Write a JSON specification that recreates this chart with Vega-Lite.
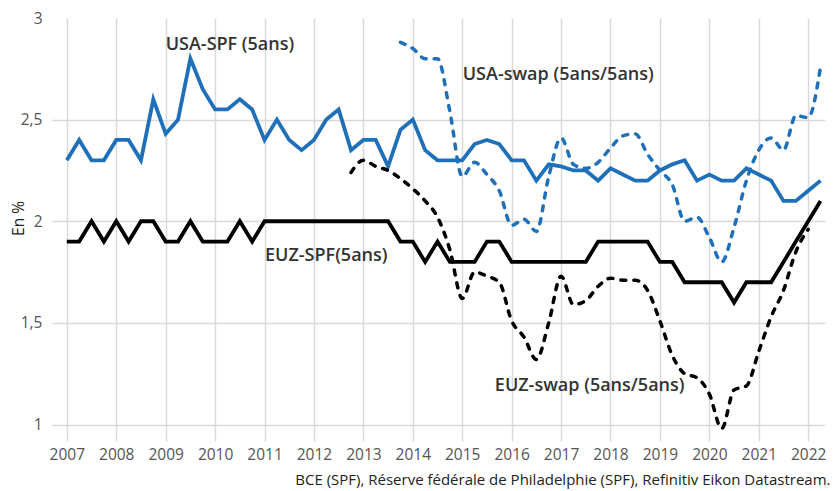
{
  "$schema": "https://vega.github.io/schema/vega-lite/v6.json",
  "width": 773,
  "height": 423,
  "autosize": {"type": "none"},
  "padding": {"left": 52, "top": 18, "right": 13, "bottom": 50},
  "background": "white",
  "config": {"view": {"stroke": null}, "font": "Open Sans"},
  "datasets": {
    "series": [
      {"s": "USA-SPF", "t": 2007.0, "v": 2.30}, {"s": "USA-SPF", "t": 2007.25, "v": 2.40}, {"s": "USA-SPF", "t": 2007.5, "v": 2.30}, {"s": "USA-SPF", "t": 2007.75, "v": 2.30},
      {"s": "USA-SPF", "t": 2008.0, "v": 2.40}, {"s": "USA-SPF", "t": 2008.25, "v": 2.40}, {"s": "USA-SPF", "t": 2008.5, "v": 2.30}, {"s": "USA-SPF", "t": 2008.75, "v": 2.60},
      {"s": "USA-SPF", "t": 2009.0, "v": 2.43}, {"s": "USA-SPF", "t": 2009.25, "v": 2.50}, {"s": "USA-SPF", "t": 2009.5, "v": 2.80}, {"s": "USA-SPF", "t": 2009.75, "v": 2.65},
      {"s": "USA-SPF", "t": 2010.0, "v": 2.55}, {"s": "USA-SPF", "t": 2010.25, "v": 2.55}, {"s": "USA-SPF", "t": 2010.5, "v": 2.60}, {"s": "USA-SPF", "t": 2010.75, "v": 2.55},
      {"s": "USA-SPF", "t": 2011.0, "v": 2.40}, {"s": "USA-SPF", "t": 2011.25, "v": 2.50}, {"s": "USA-SPF", "t": 2011.5, "v": 2.40}, {"s": "USA-SPF", "t": 2011.75, "v": 2.35},
      {"s": "USA-SPF", "t": 2012.0, "v": 2.40}, {"s": "USA-SPF", "t": 2012.25, "v": 2.50}, {"s": "USA-SPF", "t": 2012.5, "v": 2.55}, {"s": "USA-SPF", "t": 2012.75, "v": 2.35},
      {"s": "USA-SPF", "t": 2013.0, "v": 2.40}, {"s": "USA-SPF", "t": 2013.25, "v": 2.40}, {"s": "USA-SPF", "t": 2013.5, "v": 2.27}, {"s": "USA-SPF", "t": 2013.75, "v": 2.45},
      {"s": "USA-SPF", "t": 2014.0, "v": 2.50}, {"s": "USA-SPF", "t": 2014.25, "v": 2.35}, {"s": "USA-SPF", "t": 2014.5, "v": 2.30}, {"s": "USA-SPF", "t": 2014.75, "v": 2.30},
      {"s": "USA-SPF", "t": 2015.0, "v": 2.30}, {"s": "USA-SPF", "t": 2015.25, "v": 2.38}, {"s": "USA-SPF", "t": 2015.5, "v": 2.40}, {"s": "USA-SPF", "t": 2015.75, "v": 2.38},
      {"s": "USA-SPF", "t": 2016.0, "v": 2.30}, {"s": "USA-SPF", "t": 2016.25, "v": 2.30}, {"s": "USA-SPF", "t": 2016.5, "v": 2.20}, {"s": "USA-SPF", "t": 2016.75, "v": 2.28},
      {"s": "USA-SPF", "t": 2017.0, "v": 2.27}, {"s": "USA-SPF", "t": 2017.25, "v": 2.25}, {"s": "USA-SPF", "t": 2017.5, "v": 2.25}, {"s": "USA-SPF", "t": 2017.75, "v": 2.20},
      {"s": "USA-SPF", "t": 2018.0, "v": 2.26}, {"s": "USA-SPF", "t": 2018.25, "v": 2.23}, {"s": "USA-SPF", "t": 2018.5, "v": 2.20}, {"s": "USA-SPF", "t": 2018.75, "v": 2.20},
      {"s": "USA-SPF", "t": 2019.0, "v": 2.25}, {"s": "USA-SPF", "t": 2019.25, "v": 2.28}, {"s": "USA-SPF", "t": 2019.5, "v": 2.30}, {"s": "USA-SPF", "t": 2019.75, "v": 2.20},
      {"s": "USA-SPF", "t": 2020.0, "v": 2.23}, {"s": "USA-SPF", "t": 2020.25, "v": 2.20}, {"s": "USA-SPF", "t": 2020.5, "v": 2.20}, {"s": "USA-SPF", "t": 2020.75, "v": 2.26},
      {"s": "USA-SPF", "t": 2021.0, "v": 2.23}, {"s": "USA-SPF", "t": 2021.25, "v": 2.20}, {"s": "USA-SPF", "t": 2021.5, "v": 2.10}, {"s": "USA-SPF", "t": 2021.75, "v": 2.10},
      {"s": "USA-SPF", "t": 2022.0, "v": 2.15}, {"s": "USA-SPF", "t": 2022.25, "v": 2.20},

      {"s": "EUZ-SPF", "t": 2007.0, "v": 1.9}, {"s": "EUZ-SPF", "t": 2007.25, "v": 1.9}, {"s": "EUZ-SPF", "t": 2007.5, "v": 2.0}, {"s": "EUZ-SPF", "t": 2007.75, "v": 1.9},
      {"s": "EUZ-SPF", "t": 2008.0, "v": 2.0}, {"s": "EUZ-SPF", "t": 2008.25, "v": 1.9}, {"s": "EUZ-SPF", "t": 2008.5, "v": 2.0}, {"s": "EUZ-SPF", "t": 2008.75, "v": 2.0},
      {"s": "EUZ-SPF", "t": 2009.0, "v": 1.9}, {"s": "EUZ-SPF", "t": 2009.25, "v": 1.9}, {"s": "EUZ-SPF", "t": 2009.5, "v": 2.0}, {"s": "EUZ-SPF", "t": 2009.75, "v": 1.9},
      {"s": "EUZ-SPF", "t": 2010.0, "v": 1.9}, {"s": "EUZ-SPF", "t": 2010.25, "v": 1.9}, {"s": "EUZ-SPF", "t": 2010.5, "v": 2.0}, {"s": "EUZ-SPF", "t": 2010.75, "v": 1.9},
      {"s": "EUZ-SPF", "t": 2011.0, "v": 2.0}, {"s": "EUZ-SPF", "t": 2011.25, "v": 2.0}, {"s": "EUZ-SPF", "t": 2011.5, "v": 2.0}, {"s": "EUZ-SPF", "t": 2011.75, "v": 2.0},
      {"s": "EUZ-SPF", "t": 2012.0, "v": 2.0}, {"s": "EUZ-SPF", "t": 2012.25, "v": 2.0}, {"s": "EUZ-SPF", "t": 2012.5, "v": 2.0}, {"s": "EUZ-SPF", "t": 2012.75, "v": 2.0},
      {"s": "EUZ-SPF", "t": 2013.0, "v": 2.0}, {"s": "EUZ-SPF", "t": 2013.25, "v": 2.0}, {"s": "EUZ-SPF", "t": 2013.5, "v": 2.0}, {"s": "EUZ-SPF", "t": 2013.75, "v": 1.9},
      {"s": "EUZ-SPF", "t": 2014.0, "v": 1.9}, {"s": "EUZ-SPF", "t": 2014.25, "v": 1.8}, {"s": "EUZ-SPF", "t": 2014.5, "v": 1.9}, {"s": "EUZ-SPF", "t": 2014.75, "v": 1.8},
      {"s": "EUZ-SPF", "t": 2015.0, "v": 1.8}, {"s": "EUZ-SPF", "t": 2015.25, "v": 1.8}, {"s": "EUZ-SPF", "t": 2015.5, "v": 1.9}, {"s": "EUZ-SPF", "t": 2015.75, "v": 1.9},
      {"s": "EUZ-SPF", "t": 2016.0, "v": 1.8}, {"s": "EUZ-SPF", "t": 2016.25, "v": 1.8}, {"s": "EUZ-SPF", "t": 2016.5, "v": 1.8}, {"s": "EUZ-SPF", "t": 2016.75, "v": 1.8},
      {"s": "EUZ-SPF", "t": 2017.0, "v": 1.8}, {"s": "EUZ-SPF", "t": 2017.25, "v": 1.8}, {"s": "EUZ-SPF", "t": 2017.5, "v": 1.8}, {"s": "EUZ-SPF", "t": 2017.75, "v": 1.9},
      {"s": "EUZ-SPF", "t": 2018.0, "v": 1.9}, {"s": "EUZ-SPF", "t": 2018.25, "v": 1.9}, {"s": "EUZ-SPF", "t": 2018.5, "v": 1.9}, {"s": "EUZ-SPF", "t": 2018.75, "v": 1.9},
      {"s": "EUZ-SPF", "t": 2019.0, "v": 1.8}, {"s": "EUZ-SPF", "t": 2019.25, "v": 1.8}, {"s": "EUZ-SPF", "t": 2019.5, "v": 1.7}, {"s": "EUZ-SPF", "t": 2019.75, "v": 1.7},
      {"s": "EUZ-SPF", "t": 2020.0, "v": 1.7}, {"s": "EUZ-SPF", "t": 2020.25, "v": 1.7}, {"s": "EUZ-SPF", "t": 2020.5, "v": 1.6}, {"s": "EUZ-SPF", "t": 2020.75, "v": 1.7},
      {"s": "EUZ-SPF", "t": 2021.0, "v": 1.7}, {"s": "EUZ-SPF", "t": 2021.25, "v": 1.7}, {"s": "EUZ-SPF", "t": 2021.5, "v": 1.8}, {"s": "EUZ-SPF", "t": 2021.75, "v": 1.9},
      {"s": "EUZ-SPF", "t": 2022.0, "v": 2.0}, {"s": "EUZ-SPF", "t": 2022.25, "v": 2.1},

      {"s": "USA-swap", "t": 2013.75, "v": 2.88}, {"s": "USA-swap", "t": 2014.0, "v": 2.85}, {"s": "USA-swap", "t": 2014.25, "v": 2.80}, {"s": "USA-swap", "t": 2014.5, "v": 2.80},
      {"s": "USA-swap", "t": 2014.75, "v": 2.54}, {"s": "USA-swap", "t": 2015.0, "v": 2.22}, {"s": "USA-swap", "t": 2015.25, "v": 2.29}, {"s": "USA-swap", "t": 2015.5, "v": 2.23},
      {"s": "USA-swap", "t": 2015.75, "v": 2.15}, {"s": "USA-swap", "t": 2016.0, "v": 1.98}, {"s": "USA-swap", "t": 2016.25, "v": 2.01}, {"s": "USA-swap", "t": 2016.5, "v": 1.95},
      {"s": "USA-swap", "t": 2016.75, "v": 2.22}, {"s": "USA-swap", "t": 2017.0, "v": 2.41}, {"s": "USA-swap", "t": 2017.25, "v": 2.28}, {"s": "USA-swap", "t": 2017.5, "v": 2.26},
      {"s": "USA-swap", "t": 2017.75, "v": 2.29}, {"s": "USA-swap", "t": 2018.0, "v": 2.36}, {"s": "USA-swap", "t": 2018.25, "v": 2.42}, {"s": "USA-swap", "t": 2018.5, "v": 2.43},
      {"s": "USA-swap", "t": 2018.75, "v": 2.33}, {"s": "USA-swap", "t": 2019.0, "v": 2.25}, {"s": "USA-swap", "t": 2019.25, "v": 2.18}, {"s": "USA-swap", "t": 2019.5, "v": 2.00},
      {"s": "USA-swap", "t": 2019.75, "v": 2.02}, {"s": "USA-swap", "t": 2020.0, "v": 1.92}, {"s": "USA-swap", "t": 2020.25, "v": 1.80}, {"s": "USA-swap", "t": 2020.5, "v": 1.97},
      {"s": "USA-swap", "t": 2020.75, "v": 2.20}, {"s": "USA-swap", "t": 2021.0, "v": 2.35}, {"s": "USA-swap", "t": 2021.25, "v": 2.41}, {"s": "USA-swap", "t": 2021.5, "v": 2.35},
      {"s": "USA-swap", "t": 2021.75, "v": 2.52}, {"s": "USA-swap", "t": 2022.0, "v": 2.51}, {"s": "USA-swap", "t": 2022.25, "v": 2.76},

      {"s": "EUZ-swap", "t": 2012.75, "v": 2.24}, {"s": "EUZ-swap", "t": 2013.0, "v": 2.30}, {"s": "EUZ-swap", "t": 2013.25, "v": 2.27}, {"s": "EUZ-swap", "t": 2013.5, "v": 2.25},
      {"s": "EUZ-swap", "t": 2013.75, "v": 2.21}, {"s": "EUZ-swap", "t": 2014.0, "v": 2.16}, {"s": "EUZ-swap", "t": 2014.25, "v": 2.10}, {"s": "EUZ-swap", "t": 2014.5, "v": 2.02},
      {"s": "EUZ-swap", "t": 2014.75, "v": 1.86}, {"s": "EUZ-swap", "t": 2015.0, "v": 1.62}, {"s": "EUZ-swap", "t": 2015.25, "v": 1.75}, {"s": "EUZ-swap", "t": 2015.5, "v": 1.73},
      {"s": "EUZ-swap", "t": 2015.75, "v": 1.70}, {"s": "EUZ-swap", "t": 2016.0, "v": 1.51}, {"s": "EUZ-swap", "t": 2016.25, "v": 1.43}, {"s": "EUZ-swap", "t": 2016.5, "v": 1.32},
      {"s": "EUZ-swap", "t": 2016.75, "v": 1.50}, {"s": "EUZ-swap", "t": 2017.0, "v": 1.73}, {"s": "EUZ-swap", "t": 2017.25, "v": 1.59}, {"s": "EUZ-swap", "t": 2017.5, "v": 1.61},
      {"s": "EUZ-swap", "t": 2017.75, "v": 1.68}, {"s": "EUZ-swap", "t": 2018.0, "v": 1.72}, {"s": "EUZ-swap", "t": 2018.25, "v": 1.71}, {"s": "EUZ-swap", "t": 2018.5, "v": 1.71},
      {"s": "EUZ-swap", "t": 2018.75, "v": 1.66}, {"s": "EUZ-swap", "t": 2019.0, "v": 1.51}, {"s": "EUZ-swap", "t": 2019.25, "v": 1.34}, {"s": "EUZ-swap", "t": 2019.5, "v": 1.25},
      {"s": "EUZ-swap", "t": 2019.75, "v": 1.23}, {"s": "EUZ-swap", "t": 2020.0, "v": 1.15}, {"s": "EUZ-swap", "t": 2020.25, "v": 0.98}, {"s": "EUZ-swap", "t": 2020.5, "v": 1.17},
      {"s": "EUZ-swap", "t": 2020.75, "v": 1.19}, {"s": "EUZ-swap", "t": 2021.0, "v": 1.36}, {"s": "EUZ-swap", "t": 2021.25, "v": 1.53}, {"s": "EUZ-swap", "t": 2021.5, "v": 1.66},
      {"s": "EUZ-swap", "t": 2021.75, "v": 1.85}, {"s": "EUZ-swap", "t": 2022.0, "v": 1.96}
    ],
    "labels": [
      {"label": "USA-SPF (5ans)", "t": 2009.0, "v": 2.865},
      {"label": "USA-swap (5ans/5ans)", "t": 2015.01, "v": 2.718},
      {"label": "EUZ-SPF(5ans)", "t": 2011.01, "v": 1.828},
      {"label": "EUZ-swap (5ans/5ans)", "t": 2015.66, "v": 1.188}
    ]
  },
  "layer": [
    {
      "data": {"name": "series"},
      "transform": [{"filter": "datum.s === 'USA-SPF' || datum.s === 'EUZ-SPF'"}],
      "mark": {"type": "line", "strokeWidth": 3.8, "strokeJoin": "miter"},
      "encoding": {
        "x": {
          "field": "t", "type": "quantitative",
          "scale": {"domain": [2006.7, 2022.34], "nice": false, "zero": false},
          "axis": {
            "values": [2007, 2008, 2009, 2010, 2011, 2012, 2013, 2014, 2015, 2016, 2017, 2018, 2019, 2020, 2021, 2022],
            "format": "d", "grid": true, "gridColor": "#d9d9d9", "gridWidth": 1.5,
            "domain": false, "ticks": false, "labelFontSize": 15.5, "labelColor": "#555555", "labelPadding": 6,
            "title": "BCE (SPF), Réserve fédérale de Philadelphie (SPF), Refinitiv Eikon Datastream.",
            "titleFontSize": 15, "titleFontWeight": "normal", "titleColor": "#222222",
            "titleAnchor": "end", "titleAlign": "right", "titleBaseline": "middle",
            "titleX": 778, "titleY": 38
          }
        },
        "y": {
          "field": "v", "type": "quantitative",
          "scale": {"domain": [0.919, 3], "nice": false, "zero": false},
          "axis": {
            "values": [1, 1.5, 2, 2.5, 3],
            "labelExpr": "replace(toString(datum.value), '.', ',')",
            "grid": true, "gridColor": "#d9d9d9", "gridWidth": 1.5,
            "gridOpacity": {"condition": {"test": "datum.value === 3", "value": 0}, "value": 1},
            "domain": false, "ticks": false, "labelFontSize": 15.5, "labelColor": "#555555", "labelPadding": 10,
            "title": "En %", "titleFontSize": 15.5, "titleFontWeight": "normal", "titleColor": "#222222",
            "titleAngle": -90, "titleAlign": "center", "titleBaseline": "middle",
            "titleX": -34, "titleY": 200
          }
        },
        "color": {
          "field": "s", "type": "nominal",
          "scale": {"domain": ["USA-SPF", "EUZ-SPF", "USA-swap", "EUZ-swap"], "range": ["#1f70b8", "#000000", "#1f70b8", "#000000"]},
          "legend": null
        }
      }
    },
    {
      "data": {"name": "series"},
      "transform": [{"filter": "datum.s === 'USA-swap' || datum.s === 'EUZ-swap'"}],
      "mark": {"type": "line", "strokeWidth": 3.5, "strokeDash": [5, 8], "strokeCap": "round", "interpolate": "monotone"},
      "encoding": {
        "x": {"field": "t", "type": "quantitative"},
        "y": {"field": "v", "type": "quantitative"},
        "color": {"field": "s", "type": "nominal", "legend": null}
      }
    },
    {
      "data": {"name": "labels"},
      "mark": {"type": "text", "align": "left", "baseline": "middle", "fontSize": 18, "fontWeight": 600, "color": "#333333"},
      "encoding": {
        "x": {"field": "t", "type": "quantitative"},
        "y": {"field": "v", "type": "quantitative"},
        "text": {"field": "label"}
      }
    }
  ]
}
